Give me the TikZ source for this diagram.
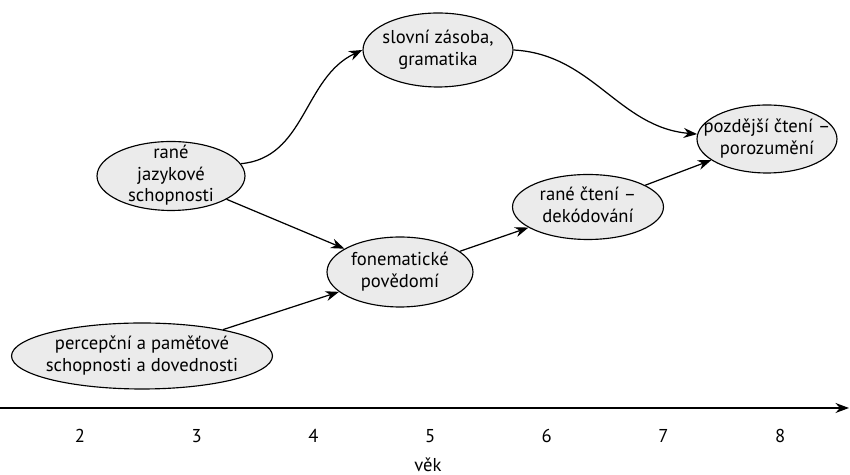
\documentclass[tikz,border=0pt]{standalone}
\usepackage{fontspec}
\setmainfont{PT Sans}
\usetikzlibrary{arrows.meta,positioning,shapes.geometric}
\definecolor{bubblegray}{RGB}{235,235,235}
% text that does not size the ellipse
\newcommand{\bubtext}[1]{\makebox[0pt]{\smash{\raisebox{-0.25em}{\begin{tabular}{@{}c@{}}#1\end{tabular}}}}}

\begin{document}
\begin{tikzpicture}[
  x=0.02cm,y=-0.02cm,font=\fontsize{10.6}{12.4}\selectfont,>=Stealth,
  link/.style={-{Stealth[length=2.7mm,width=2mm]},line width=0.7pt},
  bubble/.style={ellipse,draw,line width=0.65pt,fill=bubblegray,inner sep=0pt},
  tick/.style={inner sep=1pt}
]
\useasboundingbox (0,0) rectangle (850,475);
% ---------- skills (ellipses)
\node[bubble,minimum width=5.22cm,minimum height=1.32cm] (percep) at (142,356) {\bubtext{percepční a paměťové\\schopnosti a dovednosti}};
\node[bubble,minimum width=2.96cm,minimum height=1.38cm] (jazyk)  at (171,176) {\bubtext{rané\\jazykové\\schopnosti}};
\node[bubble,minimum width=3.0cm,minimum height=1.48cm]  (slovni) at (438,50)  {\bubtext{slovní zásoba,\\gramatika}};
\node[bubble,minimum width=2.92cm,minimum height=1.40cm] (fonem)  at (400,272) {\bubtext{fonematické\\povědomí}};
\node[bubble,minimum width=3.02cm,minimum height=1.30cm] (cteni)  at (588,207) {\bubtext{rané čtení –\\dekódování}};
\node[bubble,minimum width=2.8cm,minimum height=1.36cm]  (pozd)   at (767,139) {\bubtext{pozdější čtení –\\porozumění}};
% ---------- age axis
\coordinate (axS) at (0,408);
\coordinate (axE) at (849,408);
\draw[link] (axS) -- (axE);
\foreach \a [count=\i from 0] in {2,...,8}
  \node[tick] (t\a) at (80+116.7*\i,436) {\a};
\node[tick] (vek) at (428,465) {věk};
% ---------- connectors
\draw[link] (jazyk.10) to[out=5,in=205] (slovni.west);
\draw[link] (slovni.east) to[out=-3,in=175] (pozd.176);
\draw[link] (jazyk) -- (fonem);
\draw[link] (percep) -- (fonem);
\draw[link] (fonem) -- (cteni);
\draw[link] (cteni) -- (pozd);
\end{tikzpicture}
\end{document}
